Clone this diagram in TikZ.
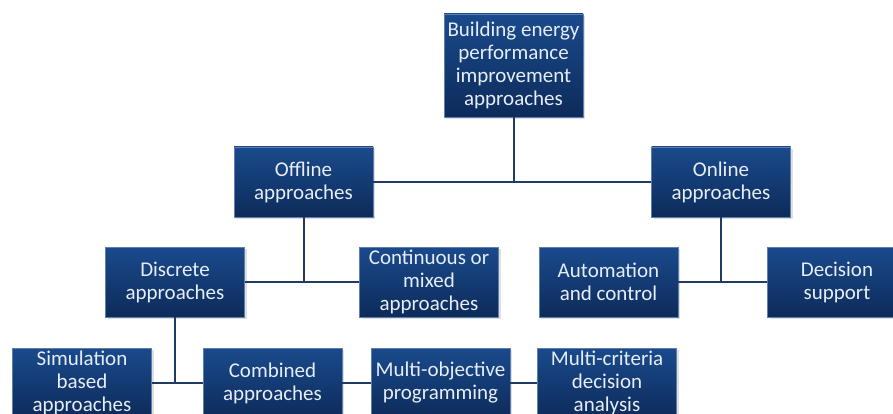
\documentclass[tikz,border=0pt]{standalone}
\usepackage{fontspec}
\setmainfont{Carlito}
\usetikzlibrary{shadows}
\definecolor{boxtop}{HTML}{1A4A8C}
\definecolor{boxbot}{HTML}{0D2B5A}
\definecolor{boxtext}{HTML}{E6EDF6}
\definecolor{linkcol}{HTML}{1F3B66}
\begin{document}
\begin{tikzpicture}[x=1pt, y=-1pt,
  box/.style={top color=boxtop, bottom color=boxbot, draw=boxtop!70!white, line width=0.6pt,
    text=boxtext, minimum width=139pt, minimum height=70pt, inner sep=1pt, align=center,
    font=\fontsize{21}{23}\selectfont,
    drop shadow={shadow xshift=2pt, shadow yshift=-2pt, opacity=0.25}},
  link/.style={draw=linkcol, line width=2pt}]
\clip (0,0) rectangle (893,414);
\node[box, minimum height=103pt] (top) at (513.5,65.5) {Building energy\\performance\\improvement\\approaches};
\node[box] (off) at (303.5,182) {Offline\\approaches};
\node[box] (on) at (721,182) {Online\\approaches};
\node[box] (disc) at (175,282) {Discrete\\approaches};
\node[box] (cont) at (429,282) {Continuous or\\mixed\\approaches};
\node[box] (auto) at (608.5,282) {Automation\\and control};
\node[box] (dec) at (837,282) {Decision\\support};
\node[box] (sim) at (82,383) {Simulation\\based\\approaches};
\node[box] (comb) at (272.5,383) {Combined\\approaches};
\node[box] (mobj) at (440.5,383) {Multi-objective\\programming};
\node[box] (mcrit) at (607,383) {Multi-criteria\\decision\\analysis};
% tree links
\draw[link] (off.east) -- (on.west);
\draw[link] (top.south) -- (top.south |- off.east);
\draw[link] (disc.east) -- (cont.west);
\draw[link] (off.south) -- (off.south |- disc.east);
\draw[link] (auto.east) -- (dec.west);
\draw[link] (on.south) -- (on.south |- auto.east);
\draw[link] (sim.east) -- (comb.west);
\draw[link] (disc.south) -- (disc.south |- sim.east);
\draw[link] (comb.east) -- (mobj.west);
\draw[link] (mobj.east) -- (mcrit.west);
\end{tikzpicture}
\end{document}
